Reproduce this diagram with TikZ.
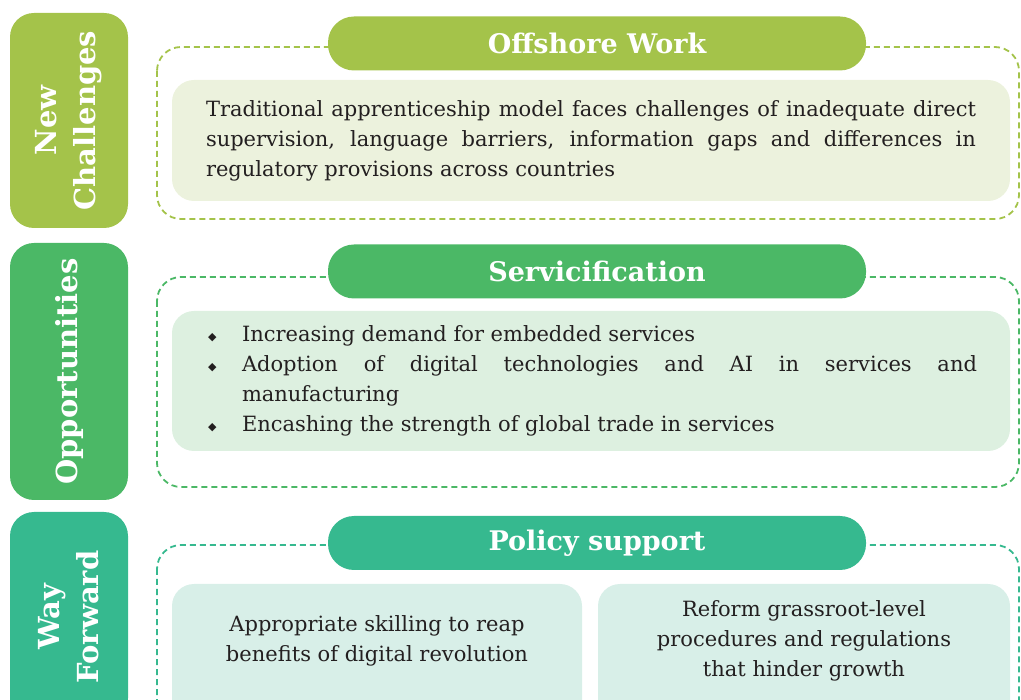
\documentclass[tikz,border=0pt]{standalone}
\usepackage{fontspec}
\setmainfont{DejaVu Serif}
\newfontfamily\symfont{DejaVu Sans}
\usetikzlibrary{positioning}

\definecolor{chalgreen}{HTML}{A4C34A}
\definecolor{oppgreen}{HTML}{4BB866}
\definecolor{waygreen}{HTML}{36B98F}
\definecolor{challight}{HTML}{ECF2DD}
\definecolor{opplight}{HTML}{DDF0E0}
\definecolor{waylight}{HTML}{D8EFE8}
\definecolor{inktext}{HTML}{231F20}

\tikzset{
  tab/.style={rectangle, rounded corners=24pt, rotate=90, text=white, align=center,
    font=\fontsize{29}{39}\selectfont\bfseries, inner sep=0pt},
  pill/.style={rectangle, rounded corners=26pt, text=white, minimum width=538pt,
    minimum height=54pt, font=\fontsize{27}{30}\selectfont\bfseries},
  frame/.style={line width=1.8pt, dash pattern=on 6pt off 4pt, rounded corners=24pt},
  box/.style={rectangle, rounded corners=22pt, inner sep=0pt},
  boxtext/.style={text=inktext, font=\fontsize{21}{30}\selectfont, inner sep=0pt}
}
\newcommand{\litem}{\noindent\hangindent=30pt\hangafter=1\makebox[30pt][l]{\hspace{-4pt}\raisebox{1.5pt}{\symfont\fontsize{11}{11}\selectfont ◆}}}

\begin{document}
\begin{tikzpicture}[x=1pt,y=-1pt]
  \useasboundingbox (0,0) rectangle (1021,700);

  % new challenges
  \node[tab, fill=chalgreen, minimum width=215pt, minimum height=118pt] (chaltab) at (69,120.5) {New\\Challenges};
  \draw[frame, chalgreen] (157,47) rectangle (1019,219);
  \node[pill, fill=chalgreen] (offshore) at (597,43.5) {Offshore Work};
  \node[box, fill=challight, minimum width=838pt, minimum height=121pt] (chalbox) at (591,140.5) {};
  \node[boxtext, text width=770pt, align=justify] (chaltext) at (chalbox) {Traditional apprenticeship model faces challenges of inadequate direct\linebreak supervision, language barriers, information gaps and differences in\linebreak regulatory provisions across countries};

  % opportunities
  \node[tab, fill=oppgreen, minimum width=257pt, minimum height=118pt] (opptab) at (69,371.5) {Opportunities};
  \draw[frame, oppgreen] (157,277) rectangle (1019,487);
  \node[pill, fill=oppgreen] (servic) at (597,271.5) {Servicification};
  \node[box, fill=opplight, minimum width=838pt, minimum height=140pt] (oppbox) at (591,381) {};
  \node[boxtext, text width=765pt, align=justify] (opptext) at (594.5,381) {\litem Increasing demand for embedded services\par
    \litem Adoption of digital technologies and AI in services and\linebreak manufacturing\par
    \litem Encashing the strength of global trade in services};

  % way forward
  \node[tab, fill=waygreen, minimum width=210pt, minimum height=118pt] (waytab) at (69,617) {Way\\Forward};
  \draw[frame, waygreen] (157,545) rectangle (1019,760);
  \node[pill, fill=waygreen] (policy) at (597,543) {Policy support};
  \node[box, fill=waylight, minimum width=410pt, minimum height=140pt] (skillbox) at (377,654) {};
  \node[box, fill=waylight, minimum width=412pt, minimum height=140pt] (reformbox) at (804,654) {};
  \node[boxtext, align=center] (skilltext) at (377,641) {Appropriate skilling to reap\\benefits of digital revolution};
  \node[boxtext, align=center] (reformtext) at (804,641) {Reform grassroot-level\\procedures and regulations\\that hinder growth};
\end{tikzpicture}
\end{document}
